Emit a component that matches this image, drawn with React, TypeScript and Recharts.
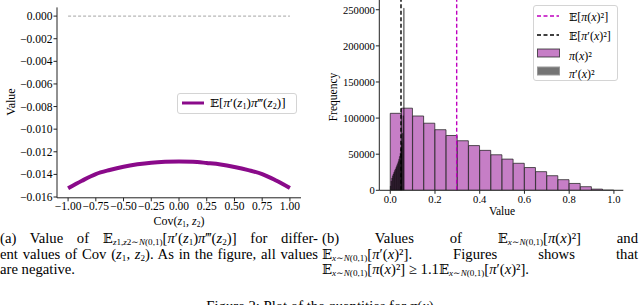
import React from "react";
import {
  LineChart,
  Line,
  XAxis,
  YAxis,
  ComposedChart,
  Bar,
  ReferenceLine,
} from "recharts";

const SERIF = '"Liberation Serif", "DejaVu Serif", serif';
const PURPLE = "#8a0a8a";
const MAGENTA = "#bf00bf";

// (a) left panel
const covValues = [
  -1, -0.875, -0.75, -0.625, -0.5, -0.375, -0.25, -0.125, 0, 0.125, 0.25,
  0.375, 0.5, 0.625, 0.75, 0.875, 1,
];
const expectationValues = [
  -0.01523, -0.01456, -0.01397, -0.01361, -0.01332, -0.01311, -0.01296,
  -0.01288, -0.01285, -0.01288, -0.01299, -0.01312, -0.01334, -0.01362,
  -0.01397, -0.01454, -0.0152,
];
const zeroRange = [-1, 1];
const covTicks = [-1, -0.75, -0.5, -0.25, 0, 0.25, 0.5, 0.75, 1];
const valueTicks = [
  0, -0.002, -0.004, -0.006, -0.008, -0.01, -0.012, -0.014, -0.016,
];

// (b) right panel
const piBinCenters = [
  0.025, 0.075, 0.125, 0.175, 0.225, 0.275, 0.325, 0.375, 0.425, 0.475, 0.525,
  0.575, 0.625, 0.675, 0.725, 0.775, 0.825, 0.875, 0.925, 0.975,
];
const piCounts = [
  106600, 113700, 102900, 92900, 83900, 75900, 68600, 61900, 55300, 49200,
  43200, 37400, 31500, 25800, 20200, 14700, 9500, 5000, 1640, 130,
];
const dpiBinCenters = [
  0.0015625, 0.0046875, 0.0078125, 0.0109375, 0.0140625, 0.0171875, 0.0203125,
  0.0234375, 0.0265625, 0.0296875, 0.0328125, 0.0359375, 0.0390625, 0.0421875,
  0.0453125, 0.0484375, 0.0515625, 0.0546875, 0.0578125, 0.0609375,
];
const dpiCounts = [
  5750, 12700, 16900, 20000, 22600, 25000, 27300, 29500, 31700, 34100, 36700,
  39600, 42800, 46700, 51400, 57400, 65800, 78800, 103200, 252000,
];
const meanPi = 0.297;
const meanDpi = 0.048;
const histTicks = [0, 0.2, 0.4, 0.6, 0.8, 1.0];
const freqTicks = [0, 50000, 100000, 150000, 200000, 250000];

const curveData = covValues.map((c, i) => ({ cov: c, value: expectationValues[i] }));
const zeroData = zeroRange.map((c) => ({ cov: c, zero: 0 }));
const piData = piBinCenters.map((c, i) => ({ center: c, count: piCounts[i] }));
const dpiData = dpiBinCenters.map((c, i) => ({ center: c, count: dpiCounts[i] }));

const minus = (s: string) => s.replace("-", "\u2212");

const I = ({ children }: { children: React.ReactNode }) => (
  <span style={{ fontStyle: "italic" }}>{children}</span>
);
const Sub = ({ children }: { children: React.ReactNode }) => (
  <span style={{ fontSize: "0.62em", verticalAlign: "-0.22em", lineHeight: 0 }}>
    {children}
  </span>
);
const E = () => <span style={{ fontFamily: '"DejaVu Serif", serif', fontSize: "0.9em" }}>𝔼</span>;
const Ex = () => (
  <>
    <E />
    <Sub>
      <I>x</I>∼<I>N</I>(0,1)
    </Sub>
  </>
);

const tickStyle = (size: number) => ({ fill: "#000", fontSize: size, fontFamily: SERIF });

const abs = (left: number, top: number, extra: React.CSSProperties = {}): React.CSSProperties => ({
  position: "absolute",
  left,
  top,
  ...extra,
});

const LeftPanel = () => (
  <div style={abs(0, 0)}>
    <LineChart
      width={320}
      height={235}
      data={curveData}
      margin={{ top: 7.4, right: 19, bottom: 0, left: 0 }}
    >
      <XAxis
        type="number"
        dataKey="cov"
        domain={[-1.1, 1.1]}
        allowDataOverflow
        ticks={covTicks}
        interval={0}
        tickFormatter={(v: number) => minus(v.toFixed(2))}
        height={37.2}
        stroke="#222"
        tickSize={3.5}
        tickMargin={1}
        tick={tickStyle(11.5)}
      />
      <YAxis
        type="number"
        domain={[-0.01607, 0.00077]}
        allowDataOverflow
        ticks={valueTicks}
        interval={0}
        tickFormatter={(v: number) => minus(v.toFixed(3))}
        width={57}
        stroke="#222"
        tickSize={3.5}
        tickMargin={1}
        tick={tickStyle(11.5)}
      />
      <Line
        data={zeroData}
        dataKey="zero"
        stroke="#9a9a9a"
        strokeWidth={0.9}
        strokeDasharray="3 2"
        dot={false}
        isAnimationActive={false}
      />
      <Line
        dataKey="value"
        type="monotone"
        stroke={PURPLE}
        strokeWidth={4}
        dot={false}
        isAnimationActive={false}
      />
    </LineChart>
    <div
      style={abs(-14, 95, {
        width: 50,
        textAlign: "center",
        transform: "rotate(-90deg)",
        fontSize: 12,
        lineHeight: "14px",
      })}
    >
      Value
    </div>
    <div style={abs(129, 214, { width: 100, textAlign: "center", fontSize: 12, lineHeight: "14px" })}>
      Cov(<I>z</I>
      <Sub>1</Sub>, <I>z</I>
      <Sub>2</Sub>)
    </div>
    <div
      style={abs(177, 93, {
        width: 118,
        height: 19,
        border: "1px solid #d4d4d4",
        borderRadius: 3,
        background: "rgba(255,255,255,0.85)",
      })}
    >
      <svg style={abs(4, 0)} width={22} height={19}>
        <line x1={0} x2={22} y1={9} y2={9} stroke={PURPLE} strokeWidth={3} />
      </svg>
      <div style={abs(32, 1, { fontSize: 13.2, lineHeight: "16px", whiteSpace: "nowrap" })}>
        <E />[<I>π</I>′(<I>z</I>
        <Sub>1</Sub>)<I>π</I>‴(<I>z</I>
        <Sub>2</Sub>)]
      </div>
    </div>
  </div>
);

const RightPanel = () => (
  <div style={abs(320, 0, { width: 320, height: 235 })}>
    <div style={abs(0, 0)}>
      <ComposedChart
        width={320}
        height={235}
        data={piData}
        barCategoryGap={0}
        barGap={0}
        margin={{ top: 0, right: 16.7, bottom: 44.7, left: 59.3 }}
      >
        <XAxis type="number" dataKey="center" domain={[-0.049, 1.042]} allowDataOverflow hide />
        <YAxis type="number" domain={[0, 263500]} allowDataOverflow hide />
        <Bar
          dataKey="count"
          fill="#c67ec6"
          stroke="#222"
          strokeOpacity={0.75}
          strokeWidth={1}
          isAnimationActive={false}
        />
      </ComposedChart>
    </div>
    <div style={abs(0, 0)}>
      <ComposedChart
        width={320}
        height={235}
        data={dpiData}
        barCategoryGap={0}
        barGap={0}
        margin={{ top: 0, right: 16.7, bottom: 0, left: 0 }}
      >
        <XAxis
          type="number"
          dataKey="center"
          domain={[-0.049, 1.042]}
          allowDataOverflow
          ticks={histTicks}
          interval={0}
          tickFormatter={(v: number) => v.toFixed(1)}
          height={44.7}
          stroke="#222"
          tickSize={3.5}
          tickMargin={1.5}
          tick={tickStyle(10.6)}
        />
        <YAxis
          type="number"
          domain={[0, 263500]}
          allowDataOverflow
          ticks={freqTicks}
          interval={0}
          width={59.3}
          stroke="#222"
          tickSize={3.5}
          tickMargin={1}
          tick={tickStyle(10.6)}
        />
        <Bar
          dataKey="count"
          fill="#000"
          fillOpacity={0.45}
          stroke="#000"
          strokeOpacity={0.55}
          strokeWidth={0.6}
          isAnimationActive={false}
        />
        <ReferenceLine x={meanPi} stroke={MAGENTA} strokeWidth={1.4} strokeDasharray="4 2.5" />
        <ReferenceLine x={meanDpi} stroke="#000" strokeWidth={1.4} strokeDasharray="4 2.5" />
      </ComposedChart>
    </div>
    <div
      style={abs(-12, 90, {
        width: 50,
        textAlign: "center",
        transform: "rotate(-90deg)",
        fontSize: 11.5,
        lineHeight: "14px",
      })}
    >
      Frequency
    </div>
    <div style={abs(132, 204, { width: 100, textAlign: "center", fontSize: 11.5, lineHeight: "14px" })}>
      Value
    </div>
    <div
      style={abs(213, 5, {
        width: 83,
        height: 74,
        border: "1px solid #d4d4d4",
        borderRadius: 3,
        background: "rgba(255,255,255,0.85)",
        fontSize: 12,
      })}
    >
      <svg style={abs(3, 0)} width={24} height={74}>
        <line x1={0} x2={22} y1={10} y2={10} stroke={MAGENTA} strokeWidth={1.4} strokeDasharray="4 2.5" />
        <line x1={0} x2={22} y1={29} y2={29} stroke="#000" strokeWidth={1.4} strokeDasharray="4 2.5" />
        <rect x={0.5} y={43} width={22} height={8} fill="#c67ec6" stroke="#222" strokeOpacity={0.75} />
        <rect x={0.5} y={61} width={22} height={8} fill="#747474" stroke="#999" />
      </svg>
      <div style={abs(35, 2, { lineHeight: "18.3px", whiteSpace: "nowrap" })}>
        <div>
          <E />[<I>π</I>(<I>x</I>)²]
        </div>
        <div>
          <E />[<I>π</I>′(<I>x</I>)²]
        </div>
        <div>
          <I>π</I>(<I>x</I>)²
        </div>
        <div>
          <I>π</I>′(<I>x</I>)²
        </div>
      </div>
    </div>
  </div>
);

const fullLine: React.CSSProperties = { textAlign: "justify", textAlignLast: "justify" };
const captionText: React.CSSProperties = { fontSize: 14.7, lineHeight: "15.5px" };

const Captions = () => (
  <>
    <div style={abs(0, 231, { width: 318, ...captionText })}>
      <div style={fullLine}>
        (a) Value of <E />
        <Sub>
          <I>z</I>1,<I>z</I>2∼<I>N</I>(0,1)
        </Sub>
        [<I>π</I>′(<I>z</I>
        <Sub>1</Sub>)<I>π</I>‴(<I>z</I>
        <Sub>2</Sub>)] for differ-
      </div>
      <div style={fullLine}>
        ent values of Cov (<I>z</I>
        <Sub>1</Sub>, <I>z</I>
        <Sub>2</Sub>). As in the figure, all values
      </div>
      <div>are negative.</div>
    </div>
    <div style={abs(322, 231, { width: 316, ...captionText })}>
      <div style={fullLine}>
        (b) Values of <Ex />[<I>π</I>(<I>x</I>)²] and
      </div>
      <div style={fullLine}>
        <Ex />[<I>π</I>′(<I>x</I>)²]. Figures shows that
      </div>
      <div style={{ whiteSpace: "nowrap" }}>
        <Ex />[<I>π</I>(<I>x</I>)²] ≥ 1.1<Ex />[<I>π</I>′(<I>x</I>)²].
      </div>
    </div>
    <div style={abs(0, 298.5, { width: 640, textAlign: "center", ...captionText })}>
      Figure 2: Plot of the quantities for <I>π</I>(<I>x</I>)
    </div>
  </>
);

export default function App() {
  return (
    <div
      style={{
        position: "absolute",
        left: 0,
        top: 0,
        width: 640,
        height: 305,
        overflow: "hidden",
        background: "#fff",
        fontFamily: SERIF,
        color: "#000",
      }}
    >
      <LeftPanel />
      <RightPanel />
      <Captions />
    </div>
  );
}
